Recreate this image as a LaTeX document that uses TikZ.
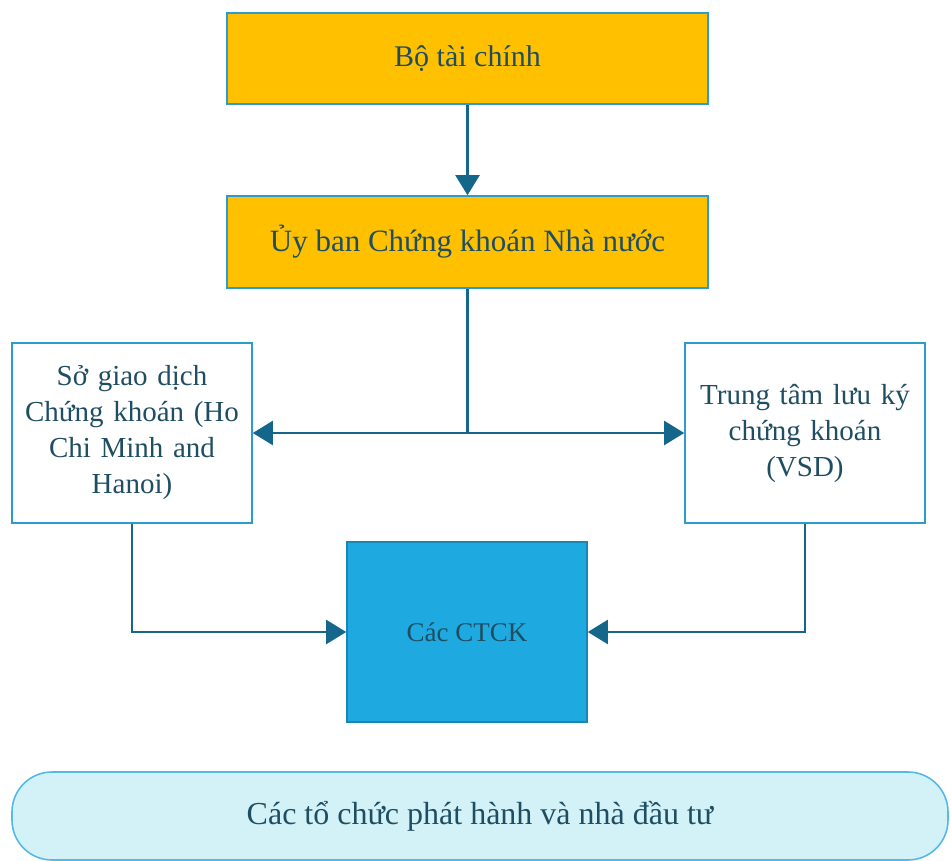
\documentclass[tikz,border=0pt]{standalone}
\usepackage{fontspec}
\setmainfont{Liberation Serif}
\usetikzlibrary{arrows.meta}
\definecolor{gold}{HTML}{FFC000}
\definecolor{boxedge}{HTML}{2E9BD0}
\definecolor{linec}{HTML}{14668A}
\definecolor{txt}{HTML}{1F4E63}
\definecolor{ctck}{HTML}{1EAAE0}
\definecolor{pale}{HTML}{D3F2F7}
\definecolor{paleedge}{HTML}{55B8E6}
\tikzset{
  xbox/.style={draw=boxedge, line width=1.6pt, text=txt, align=center, inner sep=2pt, font=\fontsize{30}{36}\selectfont},
  conn/.style={draw=linec, line width=2.2pt, -{Triangle[length=20pt,width=24pt]}},
  plain/.style={draw=linec, line width=2.2pt},
}
\begin{document}
\begin{tikzpicture}[x=1pt,y=-1pt]
\useasboundingbox (0,0) rectangle (951,861);
\node[xbox, fill=gold, minimum width=481, minimum height=91] (bo) at (467.5,58.5) {Bộ tài chính};
\node[xbox, fill=gold, minimum width=481, minimum height=92, font=\fontsize{31}{36}\selectfont] (ub) at (467.5,242) {Ủy ban Chứng khoán Nhà nước};
\node[xbox, fill=white, minimum width=240, minimum height=180, text width=236, font=\fontsize{29}{36}\selectfont] (sgd) at (132,433) {Sở giao dịch\\Chứng khoán (Ho\\Chi Minh and\\Hanoi)};
\node[xbox, fill=white, minimum width=240, minimum height=180, text width=236, font=\fontsize{29}{36}\selectfont] (vsd) at (805,433) {Trung tâm lưu ký\\chứng khoán\\(VSD)};
\node[xbox, draw=ctck!80!black, fill=ctck, minimum width=240, minimum height=180, font=\fontsize{27}{32}\selectfont] (ct) at (467,632) {Các CTCK};
\node[xbox, draw=paleedge, fill=pale, rounded corners=40pt, minimum width=936, minimum height=88, font=\fontsize{32}{36}\selectfont] (bt) at (480,816) {Các tổ chức phát hành và nhà đầu tư};
\coordinate (j) at (ub.south |- sgd.east);
\draw[conn] (bo.south) -- (ub.north);
\draw[plain] (ub.south) -- (j);
\draw[conn] (j) -- (sgd.east);
\draw[conn] (j) -- (vsd.west);
\draw[conn] (sgd.south) |- (ct.west);
\draw[conn] (vsd.south) |- (ct.east);
\end{tikzpicture}
\end{document}
